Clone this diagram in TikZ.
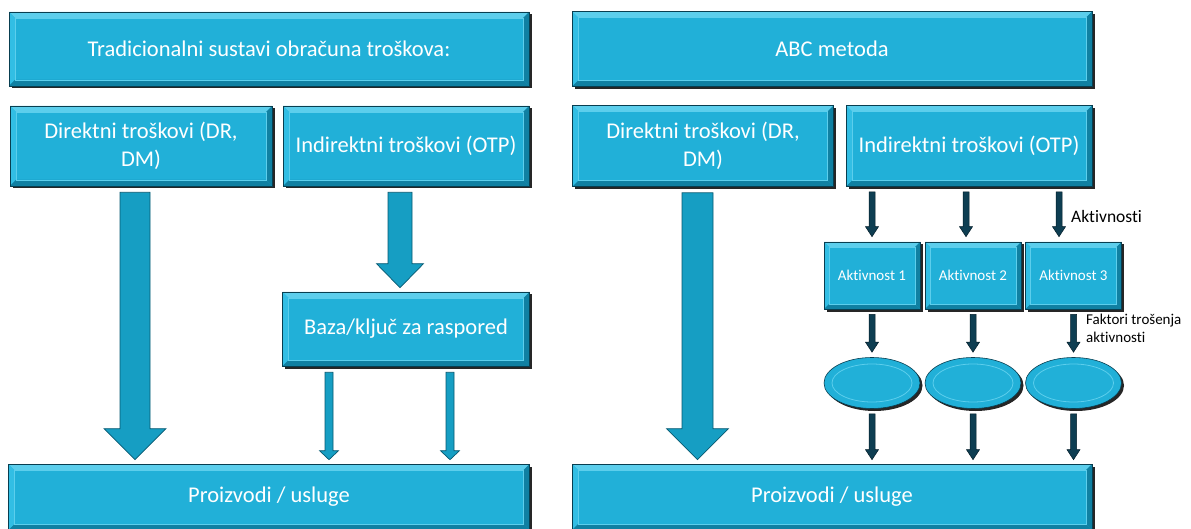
\documentclass[tikz,border=0pt]{standalone}
\usepackage{fontspec}
\setmainfont[Ligatures=NoCommon]{Carlito}
\usetikzlibrary{shadows,shapes.geometric,calc}
\definecolor{cfill}{RGB}{33,176,216}
\definecolor{clight}{RGB}{92,206,236}
\definecolor{cmid}{RGB}{50,190,228}
\definecolor{cdark}{RGB}{16,128,162}
\definecolor{cedge}{RGB}{8,62,80}
\definecolor{afill}{RGB}{22,158,195}
\definecolor{aedge}{RGB}{6,88,112}
\definecolor{dfill}{RGB}{14,62,82}
\definecolor{dedge}{RGB}{3,28,40}
\newcommand\blockarr[6]{%
  \path[#1] let \p1=(#2), \p2=(#3) in
   (\x1-#4,\y1) -- (\x1+#4,\y1) -- (\x1+#4,\y2+#6) -- (\x1+#5,\y2+#6) --
   (\x1,\y2) -- (\x1-#5,\y2+#6) -- (\x1-#4,\y2+#6) -- cycle;}
\tikzset{
  bevel/.style={path picture={
    \fill[clight] (path picture bounding box.north west) -- (path picture bounding box.north east)
      -- ([shift={(-#1,-#1)}]path picture bounding box.north east) -- ([shift={(#1,-#1)}]path picture bounding box.north west) -- cycle;
    \fill[cmid] (path picture bounding box.north west) -- ([shift={(#1,-#1)}]path picture bounding box.north west)
      -- ([shift={(#1,#1)}]path picture bounding box.south west) -- (path picture bounding box.south west) -- cycle;
    \fill[cdark] (path picture bounding box.south west) -- (path picture bounding box.south east)
      -- ([shift={(-#1,#1)}]path picture bounding box.south east) -- ([shift={(#1,#1)}]path picture bounding box.south west) -- cycle;
    \fill[cdark] (path picture bounding box.north east) -- ([shift={(-#1,-#1)}]path picture bounding box.north east)
      -- ([shift={(-#1,#1)}]path picture bounding box.south east) -- (path picture bounding box.south east) -- cycle;
    \draw[clight, line width=0.5pt] ([shift={(#1,-#1)}]path picture bounding box.north west) rectangle ([shift={(-#1,#1)}]path picture bounding box.south east);
  }},
  shad/.style={drop shadow={shadow xshift=2.5pt, shadow yshift=-2.5pt, fill=black, opacity=0.85}},
  cbox/.style={draw=cedge, line width=0.6pt, fill=cfill, text=white, align=center, inner sep=0pt,
    font=\fontsize{22.5}{28}\selectfont, shad, bevel=6pt},
  abox/.style={cbox, font=\fontsize{15}{18}\selectfont, bevel=5pt,
    minimum width=96pt, minimum height=67pt},
  oval/.style={ellipse, draw=cedge, line width=0.6pt, fill=cfill, inner sep=0pt,
    minimum width=96pt, minimum height=51pt, shad,
    path picture={\draw[clight, line width=0.8pt] (path picture bounding box.center) ellipse [x radius=40pt, y radius=19pt];}},
  bigarrow/.style={fill=afill, draw=aedge, line width=0.7pt},
  darkarrow/.style={fill=dfill, draw=dedge, line width=0.5pt},
  lbl/.style={text=black, inner sep=0pt}
}
\begin{document}
\begin{tikzpicture}[x=1pt, y=-1pt]
\useasboundingbox (0,0) rectangle (1191,529);
% left side
\node[cbox, minimum width=520pt, minimum height=74pt] (tL) at (269,49) {Tradicionalni sustavi obračuna troškova:};
\node[cbox, minimum width=262pt, minimum height=80pt] (dL) at (141,146) {Direktni troškovi (DR,\\DM)};
\node[cbox, minimum width=246pt, minimum height=80pt] (iL) at (406,146) {Indirektni troškovi (OTP)};
\node[cbox, minimum width=247pt, minimum height=74pt] (bL) at (406,329) {Baza/ključ za raspored};
\node[cbox, minimum width=521pt, minimum height=66pt] (pL) at (269,497) {Proizvodi / usluge};
% right side
\node[cbox, minimum width=520pt, minimum height=75pt] (tR) at (832,49) {ABC metoda};
\node[cbox, minimum width=261pt, minimum height=81pt] (dR) at (703,146) {Direktni troškovi (DR,\\DM)};
\node[cbox, minimum width=246pt, minimum height=81pt] (iR) at (969,146) {Indirektni troškovi (OTP)};
\node[abox] (a1) at (872,275.5) {Aktivnost 1};
\node[abox] (a2) at (973,275.5) {Aktivnost 2};
\node[abox] (a3) at (1073.5,275.5) {Aktivnost 3};
\node[oval] (e1) at (872,383) {};
\node[oval] (e2) at (973,383) {};
\node[oval] (e3) at (1073.5,383) {};
\node[cbox, minimum width=520pt, minimum height=66pt] (pR) at (832,497) {Proizvodi / usluge};
\node[lbl, anchor=west, font=\fontsize{17.5}{20}\selectfont] (lab1) at (1071,216) {Aktivnosti};
\node[lbl, anchor=north west, align=left, font=\fontsize{15}{18}\selectfont] (lab2) at (1086,314) {Faktori trošenja\\aktivnosti};
% left arrows
\coordinate (s1) at ($(135,0 |- dL.south)+(0,6)$);
\coordinate (t1) at ($(135,0 |- pL.north)+(0,-4)$);
\blockarr{bigarrow}{s1}{t1}{15pt}{31pt}{31pt}
\coordinate (s2) at ($(400,0 |- iL.south)+(0,6)$);
\coordinate (t2) at ($(400,0 |- bL.north)+(0,-4)$);
\blockarr{bigarrow}{s2}{t2}{12pt}{23.5pt}{24pt}
\coordinate (s3) at ($(329,0 |- bL.south)+(0,6)$);
\coordinate (t3) at ($(329,0 |- pL.north)+(0,-4)$);
\blockarr{bigarrow}{s3}{t3}{4pt}{9.5pt}{9pt}
\coordinate (s4) at ($(450,0 |- bL.south)+(0,6)$);
\coordinate (t4) at ($(450,0 |- pL.north)+(0,-4)$);
\blockarr{bigarrow}{s4}{t4}{4pt}{9.5pt}{9pt}
% right big arrow
\coordinate (s5) at ($(697.5,0 |- dR.south)+(0,6)$);
\coordinate (t5) at ($(697.5,0 |- pR.north)+(0,-4)$);
\blockarr{bigarrow}{s5}{t5}{15.5pt}{31pt}{31pt}
% dark arrows row 1
\coordinate (r1a) at ($(872,0 |- iR.south)+(0,5)$);
\coordinate (r1b) at ($(872,0 |- a1.north)+(0,-5)$);
\blockarr{darkarrow}{r1a}{r1b}{3pt}{6.5pt}{10pt}
\coordinate (r1c) at ($(966,0 |- iR.south)+(0,5)$);
\coordinate (r1d) at ($(966,0 |- a2.north)+(0,-5)$);
\blockarr{darkarrow}{r1c}{r1d}{3pt}{6.5pt}{10pt}
\coordinate (r1e) at ($(1059,0 |- iR.south)+(0,5)$);
\coordinate (r1f) at ($(1059,0 |- a3.north)+(0,-5)$);
\blockarr{darkarrow}{r1e}{r1f}{3pt}{6.5pt}{10pt}
% dark arrows row 2
\coordinate (r2a) at ($(a1.south)+(0,5)$);
\coordinate (r2b) at ($(a1.south |- e1.north)+(0,-5)$);
\blockarr{darkarrow}{r2a}{r2b}{3pt}{6.5pt}{10pt}
\coordinate (r2c) at ($(a2.south)+(0,5)$);
\coordinate (r2d) at ($(a2.south |- e2.north)+(0,-5)$);
\blockarr{darkarrow}{r2c}{r2d}{3pt}{6.5pt}{10pt}
\coordinate (r2e) at ($(a3.south)+(0,5)$);
\coordinate (r2f) at ($(a3.south |- e3.north)+(0,-5)$);
\blockarr{darkarrow}{r2e}{r2f}{3pt}{6.5pt}{10pt}
% dark arrows row 3
\coordinate (r3a) at ($(e1.south)+(0,5)$);
\coordinate (r3b) at ($(e1.south |- pR.north)+(0,-4)$);
\blockarr{darkarrow}{r3a}{r3b}{3pt}{6.5pt}{10pt}
\coordinate (r3c) at ($(e2.south)+(0,5)$);
\coordinate (r3d) at ($(e2.south |- pR.north)+(0,-4)$);
\blockarr{darkarrow}{r3c}{r3d}{3pt}{6.5pt}{10pt}
\coordinate (r3e) at ($(e3.south)+(0,5)$);
\coordinate (r3f) at ($(e3.south |- pR.north)+(0,-4)$);
\blockarr{darkarrow}{r3e}{r3f}{3pt}{6.5pt}{10pt}
\end{tikzpicture}
\end{document}
